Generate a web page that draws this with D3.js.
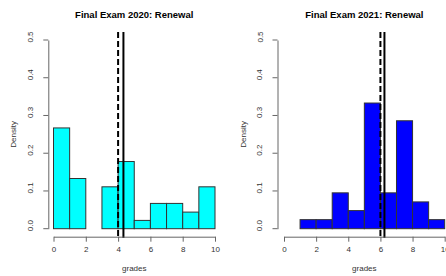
<!DOCTYPE html>
<meta charset="utf-8">
<style>
body { margin: 0; background: #fff; }
svg text { font-family: "Liberation Sans", Arial, sans-serif; fill: #333; }
.axis path, .axis line { stroke: #666; }
</style>
<body>
<script src="https://d3js.org/d3.v7.min.js"></script>
<script>
// histogram data (bin edges 0..10, density per bin)
var binEdges = [0, 1, 2, 3, 4, 5, 6, 7, 8, 9, 10];
var dens2020 = [0.267, 0.133, 0, 0.111, 0.178, 0.022, 0.067, 0.067, 0.044, 0.111];
var dens2021 = [0, 0.024, 0.024, 0.095, 0.048, 0.333, 0.095, 0.286, 0.071, 0.024];
var median2020 = 4, mean2020 = 4.33;
var median2021 = 6, mean2021 = 6.25;
var titles = ["Final Exam 2020: Renewal", "Final Exam 2021: Renewal"];
var xTicks = [0, 2, 4, 6, 8, 10];
var yTicks = [0, 0.1, 0.2, 0.3, 0.4, 0.5];

var W = 446, H = 276;
var svg = d3.select("body").append("svg")
    .attr("width", W)
    .attr("height", H);

var panels = [
  {x0: 53.5, x1: 215, yAxisX: 48.3, dens: dens2020, med: median2020, mean: mean2020, fill: "#00ffff", title: titles[0]},
  {x0: 284, x1: 444.7, yAxisX: 277.5, dens: dens2021, med: median2021, mean: mean2021, fill: "#0000ff", title: titles[1]}
];

panels.forEach(function(p) {
  var x = d3.scaleLinear().domain([0, 10]).range([p.x0, p.x1]);
  var y = d3.scaleLinear().domain([0, 0.5]).range([228.7, 40]);
  var g = svg.append("g");

  var bins = p.dens.map(function(d, i) { return {x0: binEdges[i], x1: binEdges[i + 1], v: d}; });

  // bars
  g.selectAll("rect.bar").data(bins).enter().append("rect")
      .attr("class", "bar")
      .attr("x", function(d) { return x(d.x0); })
      .attr("y", function(d) { return y(d.v); })
      .attr("width", function(d) { return x(d.x1) - x(d.x0); })
      .attr("height", function(d) { return y(0) - y(d.v); })
      .attr("fill", p.fill)
      .attr("stroke", function(d) { return d.v > 0 ? "#333" : "#bbb"; })
      .attr("stroke-width", 1);

  // median (dashed) and mean (solid)
  g.append("line")
      .attr("x1", x(p.med)).attr("x2", x(p.med))
      .attr("y1", 32).attr("y2", 238)
      .attr("stroke", "#000").attr("stroke-width", 2)
      .attr("stroke-dasharray", "6,3");
  g.append("line")
      .attr("x1", x(p.mean)).attr("x2", x(p.mean))
      .attr("y1", 32).attr("y2", 238)
      .attr("stroke", "#000").attr("stroke-width", 2);

  // x axis
  var xa = g.append("g")
      .attr("class", "axis")
      .attr("transform", "translate(0,236.7)")
      .call(d3.axisBottom(x).tickValues(xTicks).tickSize(5).tickSizeOuter(0).tickFormat(d3.format("d")));
  xa.selectAll("text").attr("font-size", "8px").attr("dy", "0.9em");

  // y axis
  var ya = g.append("g")
      .attr("class", "axis")
      .attr("transform", "translate(" + p.yAxisX + ",0)")
      .call(d3.axisLeft(y).tickValues(yTicks).tickSize(5).tickSizeOuter(0).tickFormat(d3.format(".1f")));
  ya.selectAll("text")
      .attr("font-size", "8px")
      .attr("text-anchor", "middle")
      .attr("transform", function(d) { return "rotate(-90," + (-15) + "," + y(d) + ")"; })
      .attr("x", -12)
      .attr("y", function(d) { return y(d); })
      .attr("dy", "0");
  ya.selectAll(".tick").attr("transform", null);
  ya.selectAll(".tick line").attr("y1", function(d) { return y(d); }).attr("y2", function(d) { return y(d); });

  // title and axis labels
  var cx = (p.x0 + p.x1) / 2;
  g.append("text")
      .attr("x", cx).attr("y", 18)
      .attr("text-anchor", "middle")
      .attr("font-size", "9.5px").attr("font-weight", "bold")
      .style("fill", "#000")
      .text(p.title);
  g.append("text")
      .attr("x", cx).attr("y", 271)
      .attr("text-anchor", "middle")
      .attr("font-size", "8px")
      .text("grades");
  g.append("text")
      .attr("transform", "translate(" + (p.yAxisX - 32) + "," + y(0.25) + ") rotate(-90)")
      .attr("text-anchor", "middle")
      .attr("font-size", "8px")
      .text("Density");
});
</script>
</body>
